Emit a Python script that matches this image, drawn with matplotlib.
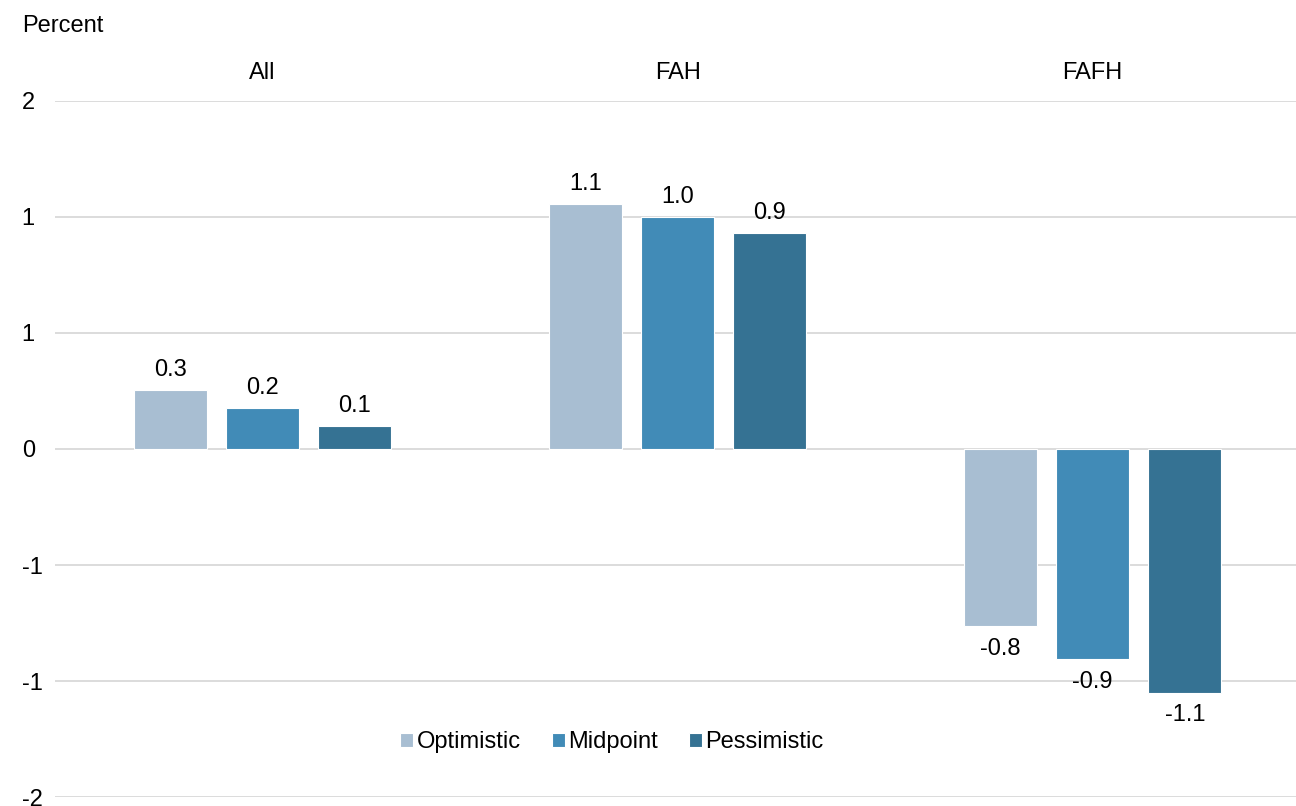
import numpy as np
import matplotlib
matplotlib.use('Agg')
import matplotlib.pyplot as plt
from matplotlib.ticker import FixedLocator, FuncFormatter

plt.rcParams['font.family'] = ['Liberation Sans', 'DejaVu Sans']

groups = ['All', 'FAH', 'FAFH']
scenarios = ['Optimistic', 'Midpoint', 'Pessimistic']
colors = ['#a8bed2', '#418bb7', '#357293']
values = {
    'Optimistic': [0.254, 1.056, -0.763],
    'Midpoint': [0.177, 1.0, -0.905],
    'Pessimistic': [0.099, 0.93, -1.05],
}
yticks = [-1.5, -1.0, -0.5, 0.0, 0.5, 1.0, 1.5]


def excel_round(v, pos=None):
    # Excel rounds half away from zero
    r = int(np.floor(abs(v) + 0.5)) * (1 if v >= 0 else -1)
    return '%d' % r


fs = 17
fig = plt.figure(figsize=(12.96, 8.06), dpi=100)
ax = fig.add_axes([55 / 1296, 9 / 806, 1 - 55 / 1296, (797 - 101) / 806])

x = np.arange(len(groups))
width = 0.175
step = 0.222
for i, (name, color) in enumerate(zip(scenarios, colors)):
    vals = values[name]
    pos = x + (i - 1) * step
    ax.bar(pos, vals, width, color=color, edgecolor='white', linewidth=0.8,
           label=name, zorder=3)
    for p, v in zip(pos, vals):
        if v >= 0:
            ax.text(p, v + 0.04, '%.1f' % v, ha='center', va='bottom', fontsize=fs)
        else:
            ax.text(p, v - 0.05, '%.1f' % v, ha='center', va='top', fontsize=fs)

ax.set_xlim(-0.5, 2.49)
ax.set_ylim(-1.5, 1.5)
ax.yaxis.set_major_locator(FixedLocator(yticks))
ax.yaxis.set_major_formatter(FuncFormatter(excel_round))
ax.grid(axis='y', color='#d9d9d9', linewidth=1.3, zorder=0)
ax.set_xticks([])
ax.tick_params(axis='y', length=0, labelsize=fs, pad=24)
for lab in ax.get_yticklabels():
    lab.set_horizontalalignment('left')
for s in ax.spines.values():
    s.set_visible(False)

for xi, g in zip(x, groups):
    ax.text(xi, 1.62, g, ha='center', va='center', fontsize=fs)

fig.text(22 / 1296, 1 - 26 / 806, 'Percent', ha='left', va='center', fontsize=fs)

fig.legend(loc='center', bbox_to_anchor=(612 / 1296, 1 - 742 / 806), ncol=3,
           frameon=False, fontsize=fs, handlelength=0.55, handleheight=0.55,
           handletextpad=0.15, columnspacing=1.3)

fig.savefig('out.png', dpi=100)
